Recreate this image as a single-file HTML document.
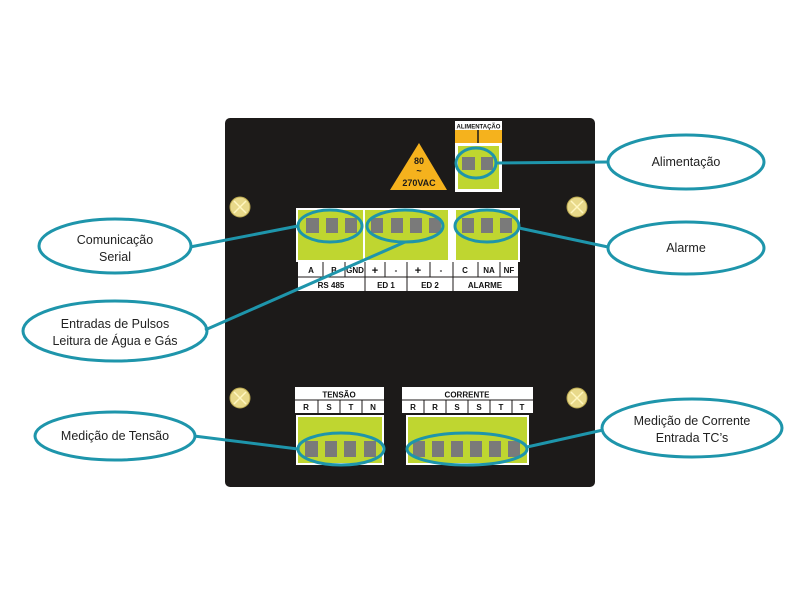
<!DOCTYPE html>
<html><head><meta charset="utf-8"><style>
html,body{margin:0;padding:0;background:#fff;width:800px;height:600px;overflow:hidden}
text{font-family:"Liberation Sans",sans-serif}
.b{font-weight:bold;font-size:8px;fill:#111}
.c{font-size:12.5px;fill:#222}
</style></head><body>
<svg width="800" height="600" viewBox="0 0 800 600" xmlns="http://www.w3.org/2000/svg">
<rect x="225" y="118" width="370" height="369" rx="5" fill="#1c1a19"/>
<!-- screws -->
<g fill="#e8d98a" stroke="#b8a64f" stroke-width="1">
<circle cx="240" cy="207" r="10"/><circle cx="577" cy="207" r="10"/>
<circle cx="240" cy="398" r="10"/><circle cx="577" cy="398" r="10"/></g>
<g stroke="#fff7c0" stroke-width="1.5">
<path d="M234 201l12 12M246 201l-12 12M571 201l12 12M583 201l-12 12M234 392l12 12M246 392l-12 12M571 392l12 12M583 392l-12 12"/></g>
<!-- triangle -->
<polygon points="419,143 447,190 390,190" fill="#f5b21d"/>
<text x="419" y="164" text-anchor="middle" class="b" style="font-size:9px;fill:#1c1a19">80</text>
<text x="419" y="174" text-anchor="middle" class="b" style="font-size:9px;fill:#1c1a19">~</text>
<text x="419" y="186" text-anchor="middle" class="b" style="font-size:9px;fill:#1c1a19">270VAC</text>
<!-- alimentacao block -->
<rect x="455" y="121" width="47" height="9" fill="#fff"/>
<text x="478.5" y="128.5" text-anchor="middle" class="b" style="font-size:6px">ALIMENTAÇÃO</text>
<rect x="455" y="130" width="47" height="13" fill="#f5b21d"/>
<line x1="478" y1="130" x2="478" y2="145" stroke="#1c1a19" stroke-width="1.5"/>
<rect x="455" y="143" width="47" height="49" fill="#fff"/>
<rect x="458" y="146" width="41" height="43" fill="#bfd630"/>
<rect x="462" y="157" width="13" height="13" fill="#7a7a7a"/><rect x="481" y="157" width="12" height="13" fill="#7a7a7a"/>
<!-- top blocks -->
<rect x="296" y="208" width="224" height="54" fill="#fff"/>
<rect x="298" y="210" width="65" height="50" fill="#bfd630"/>
<rect x="365" y="210" width="83" height="50" fill="#bfd630"/>
<rect x="456" y="210" width="62" height="50" fill="#bfd630"/>
<g fill="#7a7a7a">
<rect x="306" y="218" width="13" height="15"/><rect x="326" y="218" width="12" height="15"/><rect x="345" y="218" width="12" height="15"/>
<rect x="371" y="218" width="12" height="15"/><rect x="391" y="218" width="12" height="15"/><rect x="410" y="218" width="12" height="15"/><rect x="429" y="218" width="12" height="15"/>
<rect x="462" y="218" width="12" height="15"/><rect x="481" y="218" width="12" height="15"/><rect x="500" y="218" width="12" height="15"/></g>
<!-- label table -->
<rect x="298" y="262" width="220" height="29" fill="#fff"/>
<g stroke="#1c1a19" stroke-width="1">
<line x1="298" y1="277" x2="518" y2="277"/>
<line x1="323" y1="262" x2="323" y2="277"/><line x1="345" y1="262" x2="345" y2="277"/><line x1="365" y1="262" x2="365" y2="291"/>
<line x1="385" y1="262" x2="385" y2="277"/><line x1="407" y1="262" x2="407" y2="291"/><line x1="430" y1="262" x2="430" y2="277"/>
<line x1="453" y1="262" x2="453" y2="291"/><line x1="478" y1="262" x2="478" y2="277"/><line x1="500" y1="262" x2="500" y2="277"/></g>
<g class="b" text-anchor="middle">
<text x="311" y="273">A</text><text x="334" y="273">B</text><text x="355" y="273">GND</text>
<text x="375" y="274" style="font-size:11px">+</text><text x="396" y="273">-</text><text x="418" y="274" style="font-size:11px">+</text><text x="441" y="273">-</text>
<text x="465" y="273">C</text><text x="489" y="273">NA</text><text x="509" y="273">NF</text>
<text x="331" y="288">RS 485</text><text x="386" y="288">ED 1</text><text x="430" y="288">ED 2</text><text x="485" y="288">ALARME</text></g>
<!-- tensao -->
<rect x="295" y="387" width="89" height="26" fill="#fff"/>
<line x1="295" y1="400" x2="384" y2="400" stroke="#1c1a19"/>
<g stroke="#1c1a19"><line x1="318" y1="400" x2="318" y2="413"/><line x1="340" y1="400" x2="340" y2="413"/><line x1="362" y1="400" x2="362" y2="413"/></g>
<g class="b" text-anchor="middle"><text x="339" y="397.5">TENSÃO</text>
<text x="306" y="410">R</text><text x="329" y="410">S</text><text x="351" y="410">T</text><text x="373" y="410">N</text></g>
<rect x="296" y="415" width="88" height="50" fill="#fff"/>
<rect x="298" y="417" width="84" height="46" fill="#bfd630"/>
<g fill="#7a7a7a"><rect x="305" y="441" width="13" height="16"/><rect x="325" y="441" width="12" height="16"/><rect x="344" y="441" width="12" height="16"/><rect x="364" y="441" width="12" height="16"/></g>
<!-- corrente -->
<rect x="402" y="387" width="131" height="26" fill="#fff"/>
<line x1="402" y1="400" x2="533" y2="400" stroke="#1c1a19"/>
<g stroke="#1c1a19"><line x1="424" y1="400" x2="424" y2="413"/><line x1="446" y1="400" x2="446" y2="413"/><line x1="468" y1="400" x2="468" y2="413"/><line x1="490" y1="400" x2="490" y2="413"/><line x1="512" y1="400" x2="512" y2="413"/></g>
<g class="b" text-anchor="middle"><text x="467" y="397.5">CORRENTE</text>
<text x="413" y="410">R</text><text x="435" y="410">R</text><text x="457" y="410">S</text><text x="479" y="410">S</text><text x="501" y="410">T</text><text x="522" y="410">T</text></g>
<rect x="406" y="415" width="123" height="50" fill="#fff"/>
<rect x="408" y="417" width="119" height="46" fill="#bfd630"/>
<g fill="#7a7a7a"><rect x="413" y="441" width="12" height="16"/><rect x="432" y="441" width="12" height="16"/><rect x="451" y="441" width="12" height="16"/><rect x="470" y="441" width="12" height="16"/><rect x="489" y="441" width="12" height="16"/><rect x="508" y="441" width="12" height="16"/></g>
<!-- connectors -->
<g fill="none" stroke="#1e95ab" stroke-width="3">
<ellipse cx="476" cy="163" rx="20" ry="15"/>
<ellipse cx="330" cy="226" rx="32" ry="16"/>
<ellipse cx="405" cy="226" rx="38" ry="16"/>
<ellipse cx="487" cy="226" rx="32" ry="16"/>
<ellipse cx="341" cy="449" rx="43" ry="16"/>
<ellipse cx="467" cy="449" rx="60" ry="16"/>
<line x1="496" y1="163" x2="608" y2="162"/>
<line x1="190" y1="247" x2="298" y2="226"/>
<line x1="519" y1="228" x2="608" y2="247"/>
<line x1="205" y1="330" x2="405" y2="242"/>
<line x1="194" y1="436" x2="298" y2="449"/>
<line x1="527" y1="447" x2="603" y2="430"/>
<ellipse cx="686" cy="162" rx="78" ry="27"/>
<ellipse cx="115" cy="246" rx="76" ry="27"/>
<ellipse cx="686" cy="248" rx="78" ry="26"/>
<ellipse cx="115" cy="331" rx="92" ry="30"/>
<ellipse cx="115" cy="436" rx="80" ry="24"/>
<ellipse cx="692" cy="428" rx="90" ry="29"/>
</g>
<g class="c" text-anchor="middle">
<text x="686" y="166">Alimentação</text>
<text x="686" y="252">Alarme</text>
<text x="115" y="244">Comunicação</text><text x="115" y="261">Serial</text>
<text x="115" y="328">Entradas de Pulsos</text><text x="115" y="345">Leitura de Água e Gás</text>
<text x="115" y="440">Medição de Tensão</text>
<text x="692" y="425">Medição de Corrente</text><text x="692" y="442">Entrada TC’s</text>
</g>
</svg>
</body></html>
